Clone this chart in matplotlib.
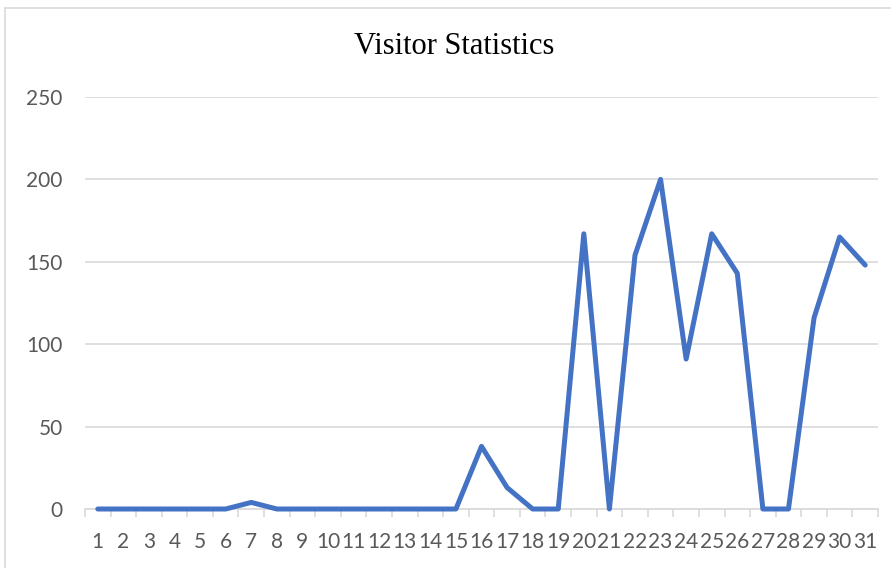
import numpy as np
import matplotlib.pyplot as plt
from matplotlib.patches import Rectangle

# daily visitor counts (day of month 1..31)
days = list(range(1, 32))
visitors = [0, 0, 0, 0, 0, 0, 4, 0, 0, 0,
            0, 0, 0, 0, 0, 38, 13, 0, 0, 167,
            0, 154, 200, 91, 167, 143, 0, 0, 116, 165,
            148]
y_ticks = [0, 50, 100, 150, 200, 250]

W, H = 891, 568
fig = plt.figure(figsize=(W / 100, H / 100), dpi=100)

# outer chart border (Excel-like), runs off the right/bottom edge
fig.patches.append(Rectangle((5 / W, -0.05), 1.0, 1.05 - 8 / H, transform=fig.transFigure,
                             fill=False, edgecolor='#D9D9D9', linewidth=1.2))

ax = fig.add_axes([85 / W, 59 / H, 793 / W, 412 / H])
x = np.array(days)
ax.plot(x, visitors, color='#4472C4', linewidth=3.6, solid_joinstyle='round',
        solid_capstyle='round', zorder=3, clip_on=False)

ax.set_xlim(0.5, 31.5)
ax.set_ylim(0, 250)
ax.set_yticks(y_ticks)
ax.grid(axis='y', color='#D9D9D9', linewidth=1.2)
ax.set_axisbelow(True)

for s in ['top', 'right', 'left']:
    ax.spines[s].set_visible(False)
ax.spines['bottom'].set_color('#D9D9D9')
ax.spines['bottom'].set_linewidth(1.2)

# ticks sit on category boundaries, labels in the middle
ax.set_xticks(np.arange(0.5, 32.5, 1.0))
ax.set_xticklabels([])
ax.set_xticks(x, minor=True)
ax.set_xticklabels([str(d) for d in days], minor=True)
ax.tick_params(axis='x', which='major', length=6, color='#D9D9D9', width=1.2)
ax.tick_params(axis='x', which='minor', length=0, pad=16.5)
ax.tick_params(axis='y', length=0, pad=16)
for lab in ax.get_xticklabels(minor=True) + ax.get_yticklabels():
    lab.set_fontfamily('Lato')
    lab.set_fontsize(15)
    lab.set_color('#595959')

fig.text(454 / W, 1 - 46 / H, 'Visitor Statistics', ha='center', va='center',
         fontsize=22, family='Liberation Serif', color='black')

fig.savefig('out.png', dpi=100)
